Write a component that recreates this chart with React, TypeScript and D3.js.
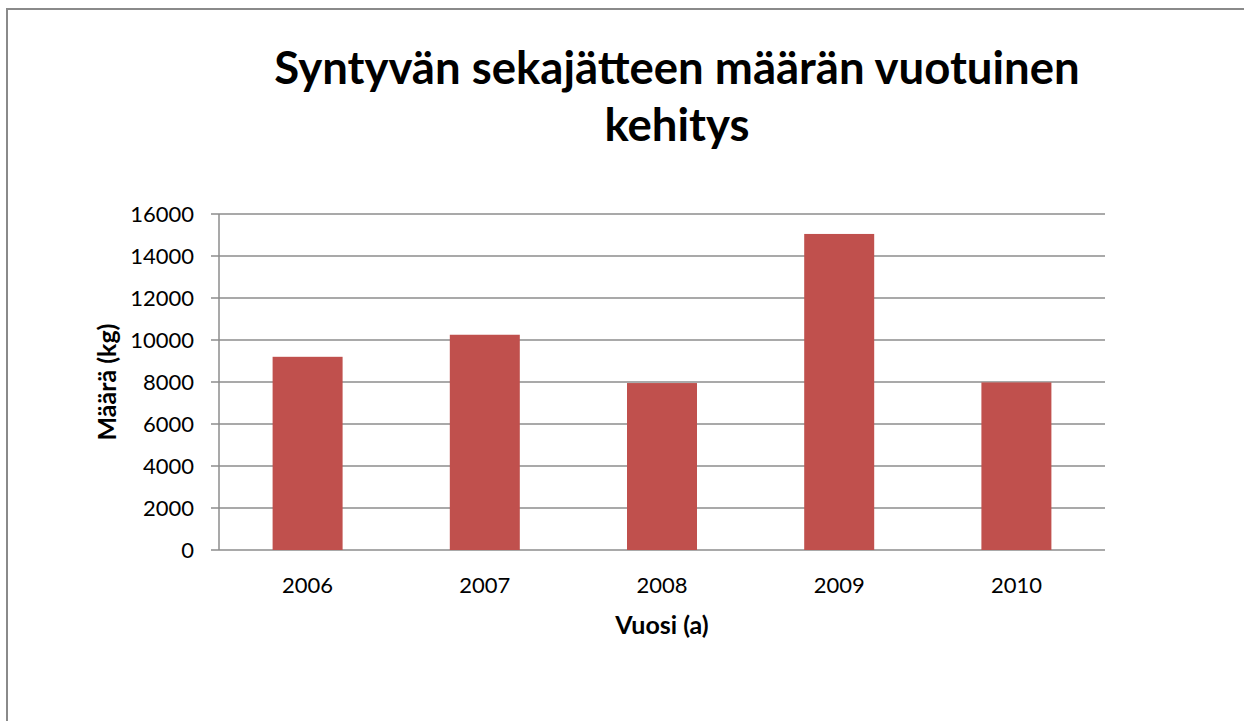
import React, { useEffect, useRef } from 'react'
import * as d3 from 'd3'

const years = ['2006', '2007', '2008', '2009', '2010']
const amounts = [9200, 10250, 7950, 15050, 7980]
const yTicks = [0, 2000, 4000, 6000, 8000, 10000, 12000, 14000, 16000]
const titleLines = ['Syntyvän sekajätteen määrän vuotuinen', 'kehitys']
const xTitle = 'Vuosi (a)'
const yTitle = 'Määrä (kg)'

const FONT = 'Lato, "Open Sans", sans-serif'

export default function App() {
    const ref = useRef<SVGSVGElement>(null)

    useEffect(() => {
        const svg = d3.select(ref.current)
        svg.selectAll('*').remove()

        const left = 219, right = 1105, top = 214, bottom = 550

        // chart frame: only the top and left edges are inside the picture
        svg.append('path')
            .attr('d', 'M7,721 L7,9 L1244,9')
            .attr('fill', 'none')
            .attr('stroke', '#8a8a8a')
            .attr('stroke-width', 2)

        const x = d3.scaleBand()
            .domain(years)
            .range([left, right])
            .paddingInner(0.605)
            .paddingOuter(0.3025)

        const y = d3.scaleLinear().domain([0, 16000]).range([bottom, top])

        // gridlines + tick marks
        svg.append('g')
            .selectAll('line')
            .data(yTicks)
            .enter()
            .append('line')
            .attr('x1', left - 8)
            .attr('x2', right)
            .attr('y1', d => y(d))
            .attr('y2', d => y(d))
            .attr('stroke', '#8c8c8c')
            .attr('stroke-width', 1.5)

        svg.append('line')
            .attr('x1', left).attr('x2', left)
            .attr('y1', top).attr('y2', bottom)
            .attr('stroke', '#8c8c8c')
            .attr('stroke-width', 1.5)

        svg.append('g')
            .selectAll('text')
            .data(yTicks)
            .enter()
            .append('text')
            .attr('x', 194)
            .attr('y', d => y(d))
            .attr('dy', '0.36em')
            .attr('text-anchor', 'end')
            .attr('font-family', FONT)
            .attr('font-size', 22)
            .attr('fill', '#000')
            .text(d => d)

        svg.append('g')
            .selectAll('rect')
            .data(amounts)
            .enter()
            .append('rect')
            .attr('x', (d, i) => x(years[i]))
            .attr('width', x.bandwidth())
            .attr('y', d => y(d))
            .attr('height', d => bottom - y(d))
            .attr('fill', '#c0504d')

        svg.append('g')
            .selectAll('text')
            .data(years)
            .enter()
            .append('text')
            .attr('x', d => x(d) + x.bandwidth() / 2)
            .attr('y', 593)
            .attr('text-anchor', 'middle')
            .attr('font-family', FONT)
            .attr('font-size', 22)
            .text(d => d)

        svg.append('text')
            .attr('x', (left + right) / 2)
            .attr('y', 634)
            .attr('text-anchor', 'middle')
            .attr('font-family', FONT)
            .attr('font-weight', 'bold')
            .attr('font-size', 25)
            .text(xTitle)

        svg.append('text')
            .attr('transform', `translate(116, ${(top + bottom) / 2}) rotate(-90)`)
            .attr('text-anchor', 'middle')
            .attr('font-family', FONT)
            .attr('font-weight', 'bold')
            .attr('font-size', 25)
            .text(yTitle)

        svg.append('g')
            .selectAll('text')
            .data(titleLines)
            .enter()
            .append('text')
            .attr('x', 677)
            .attr('y', (d, i) => 84 + i * 57)
            .attr('text-anchor', 'middle')
            .attr('font-family', FONT)
            .attr('font-weight', 'bold')
            .attr('font-size', 45.5)
            .text(d => d)
    }, [])

    return (
        <svg ref={ref} width={1244} height={721}
            style={{ position: 'absolute', left: 0, top: 0, background: '#fff' }} />
    )
}
